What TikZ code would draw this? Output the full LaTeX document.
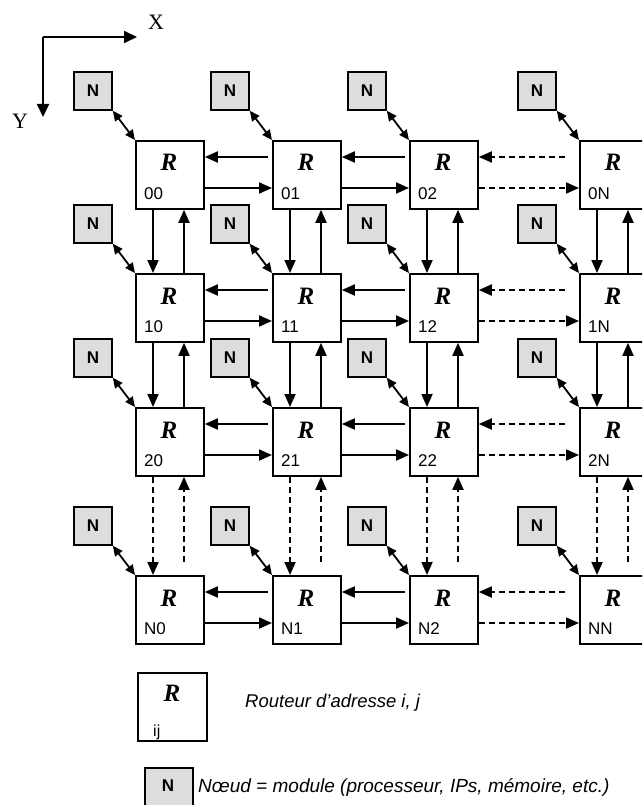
\documentclass[tikz,border=0pt]{standalone}
\usepackage{fontspec}
\setmainfont{Liberation Serif}
\setsansfont{Liberation Sans}
\usetikzlibrary{arrows.meta,calc}
\definecolor{ngray}{RGB}{221,221,221}
\begin{document}
\begin{tikzpicture}[x=1pt,y=-1pt,
  router/.style={draw,line width=1.8pt,minimum width=68pt,minimum height=68pt,inner sep=0pt,anchor=north west,fill=white},
  nbox/.style={draw,line width=1.8pt,fill=ngray,minimum size=38pt,inner sep=0pt,anchor=north west,font=\sffamily\bfseries\fontsize{17}{17}\selectfont},
  rtext/.style={inner sep=0pt,anchor=base,font=\rmfamily\bfseries\itshape\fontsize{25}{25}\selectfont},
  idx/.style={inner sep=0pt,anchor=base west,font=\sffamily\fontsize{17}{17}\selectfont},
  axlbl/.style={inner sep=0pt,anchor=base west,font=\rmfamily\fontsize{22}{22}\selectfont},
  legtext/.style={inner sep=0pt,anchor=base west,font=\sffamily\itshape\fontsize{18.5}{18.5}\selectfont},
  link/.style={line width=1.8pt,-{Triangle[length=13pt,width=11pt]}},
  dlink/.style={link,dash pattern=on 6pt off 4pt},
  nlink/.style={line width=1.8pt,{Triangle[length=10pt,width=9pt]}-{Triangle[length=10pt,width=9pt]}},
  axis/.style={line width=1.8pt,-{Triangle[length=13pt,width=12pt]}},
]
\useasboundingbox (0,0) rectangle (642,805);
\clip (0,0) rectangle (642,805);

% axes
\coordinate (o) at (43,37);
\coordinate (xe) at (137,37);
\coordinate (ye) at (43,117);
\draw[axis] (o) -- (xe);
\draw[axis] (o) -- (ye);
\node[axlbl] (xl) at (148,30) {X};
\node[axlbl] (yl) at (12,129) {Y};

% routers and nodes
\foreach \c/\X/\cl in {0/135/0,1/272/1,2/409/2,3/579/N}{
  \foreach \r/\Y/\rl in {0/140/0,1/273/1,2/407/2,3/575/N}{
    \node[router] (r\c\r) at (\X,\Y) {};
    \node[rtext] (rR\c\r) at (\X+34,\Y+31) {R};
    \node[idx] (ri\c\r) at (\X+9,\Y+59) {\rl\cl};
    \node[nbox] (n\c\r) at (\X-62,\Y-69) {N};
    \draw[nlink] (n\c\r.south east) -- (r\c\r.north west);
  }
}

% horizontal links
\foreach \r in {0,1,2,3}{
  \foreach \c/\cn in {0/1,1/2}{
    \draw[link] ($(r\cn\r.north west)+(-4,17)$) -- ($(r\c\r.north east)+(0,17)$);
    \draw[link] ($(r\c\r.north east)+(0,48)$) -- ($(r\cn\r.north west)+(0,48)$);
  }
  \draw[dlink] ($(r3\r.north west)+(-14,17)$) -- ($(r2\r.north east)+(0,17)$);
  \draw[dlink] ($(r2\r.north east)+(0,48)$) -- ($(r3\r.north west)+(0,48)$);
}

% vertical links
\foreach \c in {0,1,2,3}{
  \foreach \r/\rn in {0/1,1/2}{
    \draw[link] ($(r\c\r.south west)+(18,0)$) -- ($(r\c\rn.north west)+(18,0)$);
    \draw[link] ($(r\c\rn.north west)+(49,0)$) -- ($(r\c\r.south west)+(49,0)$);
  }
  \draw[dlink] ($(r\c2.south west)+(18,0)$) -- ($(r\c3.north west)+(18,0)$);
  \draw[dlink] ($(r\c3.north west)+(49,-13)$) -- ($(r\c2.south west)+(49,0)$);
}

% legend
\node[router,minimum width=69pt] (lr) at (137,672) {};
\node[rtext] (lrR) at (172,701) {R};
\node[idx,font=\sffamily\fontsize{16}{16}\selectfont] (lri) at (153,736) {ij};
\node[legtext] (lrt) at (245,707) {Routeur d’adresse i, j};
\node[nbox,minimum width=48pt,minimum height=48pt] (ln) at (144,767) {};
\node[inner sep=0pt,font=\sffamily\bfseries\fontsize{17}{17}\selectfont] (lnN) at (168,786) {N};
\node[legtext,font=\sffamily\itshape\fontsize{19}{19}\selectfont] (lnt) at (198,792) {Nœud = module (processeur, IPs, mémoire, etc.)};
\end{tikzpicture}
\end{document}
